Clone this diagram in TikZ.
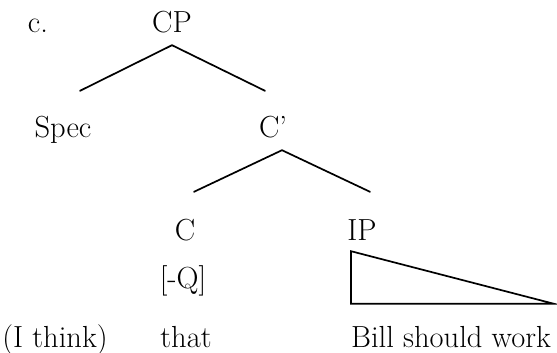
\documentclass[tikz,border=0pt]{standalone}
\usepackage{tikz}
\usetikzlibrary{positioning}

\begin{document}
\begin{tikzpicture}[
        x=1pt, y=-1pt,
        word/.style={inner sep=0pt, anchor=base, text height=20pt, text depth=6pt,
                     font=\fontsize{30.5}{36}\selectfont},
        branch/.style={line width=1.7pt, line cap=round},
        roof/.style={line width=1.7pt, line join=miter}
    ]
        \useasboundingbox (0,0) rectangle (557,353);

        % Top level
        \node[word] (label) at (38,33) {c.};
        \node[word] (CP) at (172,33) {CP};

        % Daughters of CP
        \node[word] (spec) at (63,137) {Spec};
        \node[word] (Cbar) at (273,137) {C’};

        % Daughters of C'
        \node[word] (C) at (185,240) {C};
        \node[word] (IP) at (362,240) {IP};
        \node[word] (feat) at (183,288) {[-Q]};

        % Words
        \node[word] (think) at (55,347) {(I think)};
        \node[word] (that) at (186,347) {that};
        \node[word] (work) at (451,347) {Bill should work};

        % Branches
        \draw[branch] ([xshift=17pt,yshift=26pt]spec.north) -- ([yshift=-6pt]CP.south)
                      -- ([xshift=-8pt,yshift=26pt]Cbar.north);
        \draw[branch] ([xshift=9pt,yshift=28pt]C.north) -- ([xshift=9pt,yshift=-7pt]Cbar.south)
                      -- ([xshift=8pt,yshift=28pt]IP.north);

        % Triangle over IP
        \draw[roof] ([xshift=-11pt,yshift=-5pt]IP.south) -- ([xshift=-100pt,yshift=23pt]work.north)
                    -- ([xshift=103pt,yshift=23pt]work.north) -- cycle;
    \end{tikzpicture}
\end{document}
